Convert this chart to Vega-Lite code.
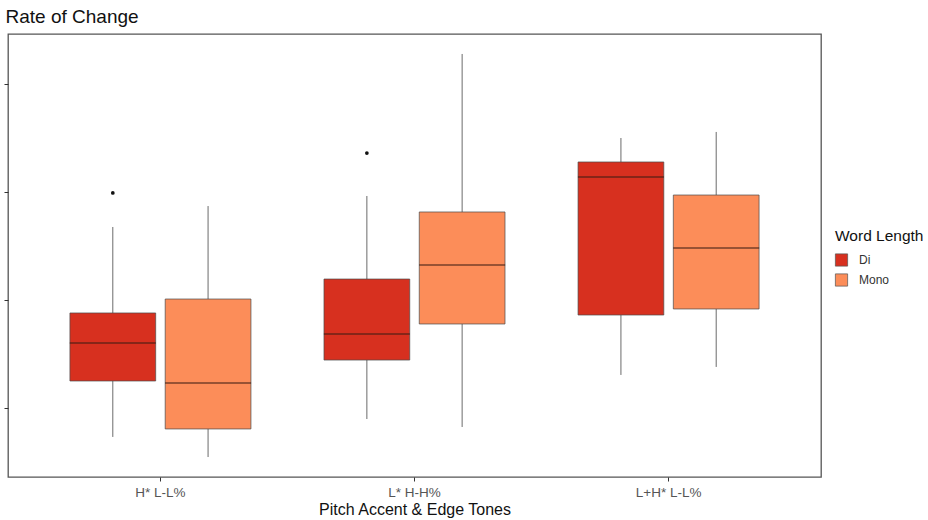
{
  "$schema": "https://vega.github.io/schema/vega-lite/v6.json",
  "width": 813,
  "height": 443,
  "autosize": {"type": "none"},
  "padding": {"left": 8, "top": 34, "right": 107, "bottom": 43},
  "background": "white",
  "config": {
    "font": "Liberation Sans",
    "view": {"stroke": "#555555", "strokeWidth": 1.3},
    "axis": {"grid": false}
  },
  "title": {
    "text": "Rate of Change",
    "anchor": "start",
    "fontSize": 19,
    "fontWeight": "normal",
    "color": "#111111",
    "offset": 7,
    "dx": 2
  },
  "datasets": {
    "boxes": [
      {"tone": "H* L-L%", "wl": "Di", "lower": 0.732, "q1": 1.25, "median": 1.602, "q3": 1.88, "upper": 2.676},
      {"tone": "H* L-L%", "wl": "Mono", "lower": 0.546, "q1": 0.806, "median": 1.231, "q3": 2.009, "upper": 2.87},
      {"tone": "L* H-H%", "wl": "Di", "lower": 0.898, "q1": 1.444, "median": 1.685, "q3": 2.194, "upper": 2.963},
      {"tone": "L* H-H%", "wl": "Mono", "lower": 0.824, "q1": 1.778, "median": 2.324, "q3": 2.815, "upper": 4.278},
      {"tone": "L+H* L-L%", "wl": "Di", "lower": 1.306, "q1": 1.861, "median": 3.139, "q3": 3.278, "upper": 3.5},
      {"tone": "L+H* L-L%", "wl": "Mono", "lower": 1.38, "q1": 1.917, "median": 2.481, "q3": 2.972, "upper": 3.556}
    ],
    "outliers": [
      {"tone": "H* L-L%", "wl": "Di", "value": 2.991},
      {"tone": "L* H-H%", "wl": "Di", "value": 3.361}
    ]
  },
  "encoding": {
    "x": {
      "field": "tone",
      "type": "nominal",
      "sort": ["H* L-L%", "L* H-H%", "L+H* L-L%"],
      "scale": {"paddingInner": 0.25, "paddingOuter": 0.225},
      "axis": {
        "title": "Pitch Accent & Edge Tones",
        "titleFontSize": 16,
        "titleFontWeight": "normal",
        "titleColor": "#111111",
        "titlePadding": 3,
        "labelAngle": 0,
        "labelFontSize": 13.5,
        "labelColor": "#555555",
        "labelPadding": 4,
        "tickSize": 4,
        "tickColor": "#333333",
        "domain": false
      }
    },
    "xOffset": {
      "field": "wl",
      "type": "nominal",
      "sort": ["Di", "Mono"],
      "scale": {"paddingInner": 0.1, "paddingOuter": 0.05}
    }
  },
  "layer": [
    {
      "data": {"name": "boxes"},
      "mark": {"type": "rule", "color": "#6b6b6b", "strokeWidth": 1},
      "encoding": {
        "y": {
          "field": "lower",
          "type": "quantitative",
          "scale": {"domain": [0.361, 4.463], "nice": false, "zero": false},
          "axis": {
            "title": null,
            "values": [1, 2, 3, 4],
            "labels": false,
            "tickSize": 4,
            "tickColor": "#333333",
            "domain": false
          }
        },
        "y2": {"field": "upper"}
      }
    },
    {
      "data": {"name": "boxes"},
      "mark": {"type": "bar", "stroke": "#4a4a4a", "strokeWidth": 0.7, "opacity": 1},
      "encoding": {
        "y": {"field": "q1", "type": "quantitative"},
        "y2": {"field": "q3"},
        "color": {
          "field": "wl",
          "type": "nominal",
          "sort": ["Di", "Mono"],
          "scale": {"domain": ["Di", "Mono"], "range": ["#d7301f", "#fc8d59"]},
          "legend": {
            "title": "Word Length",
            "orient": "none",
            "legendX": 827,
            "legendY": 195,
            "titleFontSize": 15.5,
            "titleFontWeight": "normal",
            "titleColor": "#111111",
            "titlePadding": 9,
            "labelFontSize": 12,
            "labelColor": "#333333",
            "symbolType": "square",
            "symbolSize": 150,
            "symbolStrokeColor": "#555555",
            "symbolStrokeWidth": 0.7,
            "rowPadding": 3,
            "labelOffset": 11
          }
        }
      }
    },
    {
      "data": {"name": "boxes"},
      "mark": {"type": "tick", "color": "#3d1c14", "size": 86, "thickness": 1.6, "orient": "horizontal"},
      "encoding": {
        "y": {"field": "median", "type": "quantitative"}
      }
    },
    {
      "data": {"name": "outliers"},
      "mark": {"type": "point", "filled": true, "color": "#111111", "size": 14, "opacity": 1},
      "encoding": {
        "y": {"field": "value", "type": "quantitative"}
      }
    }
  ]
}
